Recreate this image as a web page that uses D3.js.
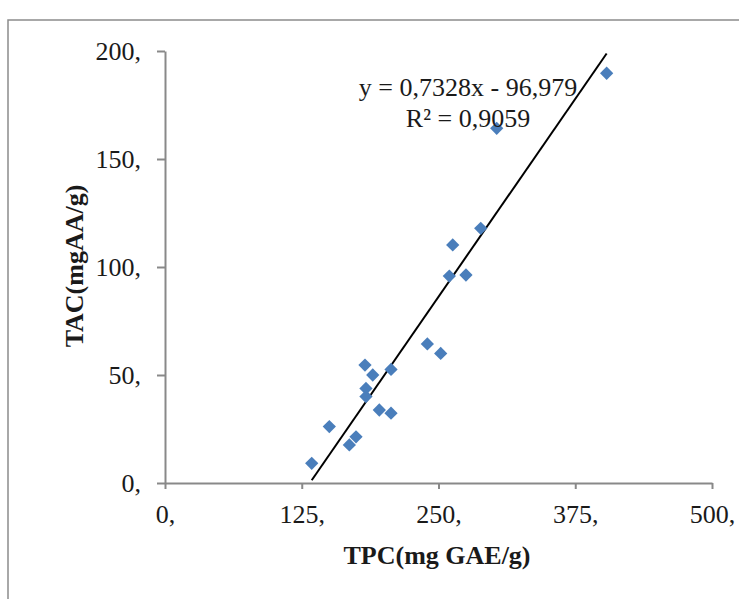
<!DOCTYPE html>
<html>
<head>
<meta charset="utf-8">
<script src="https://cdn.jsdelivr.net/npm/d3@7/dist/d3.min.js"></script>
<style>
  html, body { margin: 0; padding: 0; background: #fff; }
  svg { display: block; }
  text { font-family: "Liberation Serif", "Times New Roman", serif; fill: #1a1a1a; }
</style>
</head>
<body>
<svg id="chart" width="739" height="599"></svg>
<script>
// Data
const tpc = [134.1, 150.2, 168.5, 174.6, 182.8, 189.9, 183.7, 183.7, 195.9, 206.6, 206.6, 239.8, 252.0, 259.9, 263.0, 275.1, 288.6, 303.2, 403.7];
const tac = [9.1, 26.1, 17.6, 21.4, 54.6, 50.0, 43.8, 40.0, 33.8, 52.6, 32.3, 64.4, 60.0, 95.8, 110.2, 96.3, 117.9, 164.2, 189.7];
const xTicks = [0, 125, 250, 375, 500];
const yTicks = [0, 50, 100, 150, 200];
const slope = 0.7328, intercept = -96.979;
const eqLabel = "y = 0,7328x - 96,979";
const r2Label = "R² = 0,9059";
const xTitle = "TPC(mg GAE/g)";
const yTitle = "TAC(mgAA/g)";

const svg = d3.select("#chart");
const axisColor = "#898989";

// outer chart border (clipped by the picture edge at right/bottom)
svg.append("rect").attr("x", 8).attr("y", 20).attr("width", 800).attr("height", 700)
  .attr("fill", "none").attr("stroke", "#8c8c8c").attr("stroke-width", 1.5);

const x = d3.scaleLinear().domain([0, 500]).range([165, 712]);
const y = d3.scaleLinear().domain([0, 200]).range([483, 51]);

const fmt = d => d + ",";

const xAxis = svg.append("g").attr("transform", `translate(0,${y(0)})`)
  .call(d3.axisBottom(x).tickValues(xTicks).tickFormat(fmt).tickSize(6).tickPadding(16).tickSizeOuter(0));
const yAxis = svg.append("g").attr("transform", `translate(${x(0)},0)`)
  .call(d3.axisLeft(y).tickValues(yTicks).tickFormat(fmt).tickSize(8).tickPadding(16).tickSizeOuter(0));

[xAxis, yAxis].forEach(g => {
  g.select(".domain").attr("stroke", axisColor).attr("stroke-width", 2);
  g.selectAll(".tick line").attr("stroke", axisColor).attr("stroke-width", 2);
  g.selectAll(".tick text").attr("font-size", 26).attr("fill", "#1a1a1a")
    .style("font-family", "'Liberation Serif', 'Times New Roman', serif");
});

// trend line over the data range
const xmin = d3.min(tpc), xmax = d3.max(tpc);
svg.append("line")
  .attr("x1", x(xmin)).attr("y1", y(slope * xmin + intercept))
  .attr("x2", x(xmax)).attr("y2", y(slope * xmax + intercept))
  .attr("stroke", "#000").attr("stroke-width", 2);

// markers
const diamond = d3.symbol().type(d3.symbolSquare).size(88);
svg.append("g").selectAll("path").data(tpc.map((v, i) => [v, tac[i]])).join("path")
  .attr("d", diamond)
  .attr("transform", d => `translate(${x(d[0])},${y(d[1])}) rotate(45)`)
  .attr("fill", "#4a7ebb");

// equation labels
svg.append("text").attr("x", 468).attr("y", 96).attr("text-anchor", "middle")
  .attr("font-size", 26).text(eqLabel);
svg.append("text").attr("x", 468).attr("y", 127).attr("text-anchor", "middle")
  .attr("font-size", 26).text(r2Label);

// axis titles
svg.append("text").attr("x", 437).attr("y", 564).attr("text-anchor", "middle")
  .attr("font-size", 26).attr("font-weight", "bold").text(xTitle);
svg.append("text").attr("transform", "translate(83,266) rotate(-90)").attr("text-anchor", "middle")
  .attr("font-size", 26).attr("font-weight", "bold").text(yTitle);
</script>
</body>
</html>
